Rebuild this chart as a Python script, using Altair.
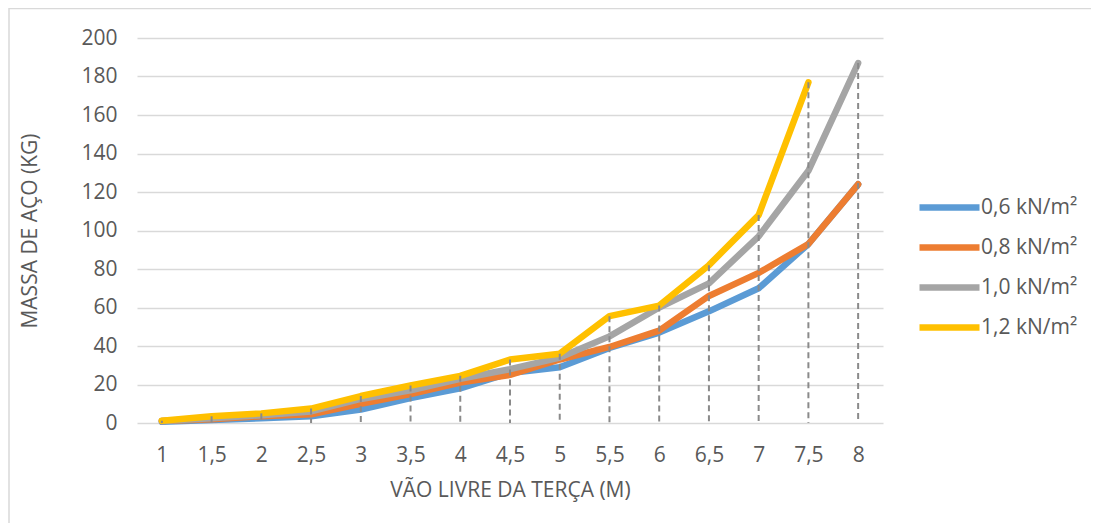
import altair as alt
import pandas as pd

# ---- data ----
vaos = ["1", "1,5", "2", "2,5", "3", "3,5", "4", "4,5", "5", "5,5", "6", "6,5", "7", "7,5", "8"]
series = ["0,6 kN/m²", "0,8 kN/m²", "1,0 kN/m²", "1,2 kN/m²"]
colors = ["#5b9bd5", "#ed7d31", "#a5a5a5", "#ffc000"]
y_ticks = [0, 20, 40, 60, 80, 100, 120, 140, 160, 180, 200]

m06 = [0.6, 1.5, 2.5, 3.5, 7, 13, 18, 26, 29, 39, 47, 58, 70, 93, 124]
m08 = [1, 2, 3.5, 4.5, 10, 15, 21, 25, 33, 39.5, 48, 66, 78, 93, 124]
m10 = [1, 2.5, 4, 6, 12.5, 17, 23, 28, 34, 45, 60, 72.5, 97, 131, 187]
m12 = [1.2, 3.5, 5, 7.5, 14, 19.5, 24.5, 33, 36, 55.5, 61, 82, 108, 177, None]

rows = []
for name, vals in zip(series, [m06, m08, m10, m12]):
    for v, m in zip(vaos, vals):
        if m is not None:
            rows.append({"vao": v, "serie": name, "massa": m})
df = pd.DataFrame(rows)

W, H = 746, 385
FONT = "Open Sans"
GREY = "#595959"
FS = 21

xscale = alt.Scale(type="point", padding=0.5)
xaxis = alt.Axis(
    title="VÃO LIVRE DA TERÇA (M)",
    labelAngle=0,
    labelPadding=21,
    ticks=False,
    domain=False,
    titlePadding=14,
)
yscale = alt.Scale(domain=[0, 200], nice=False)
yaxis = alt.Axis(
    title="MASSA DE AÇO (KG)",
    values=y_ticks,
    tickCount=11,
    labelOverlap=False,
    ticks=False,
    domain=False,
    labelPadding=20,
    titlePadding=40,
    gridColor="#d9d9d9",
    gridWidth=1.5,
)

lines = (
    alt.Chart(df)
    .mark_line(strokeWidth=6.5, strokeCap="round", strokeJoin="round")
    .encode(
        x=alt.X("vao:O", sort=vaos, scale=xscale, axis=xaxis),
        y=alt.Y("massa:Q", scale=yscale, axis=yaxis),
        color=alt.Color(
            "serie:N",
            scale=alt.Scale(domain=series, range=colors),
            legend=alt.Legend(
                title=None,
                orient="none",
                legendX=789,
                legendY=146,
                symbolType="M-1.5,0L1.5,0",
                symbolStrokeWidth=6.5,
                symbolSize=1600,
                labelFontSize=FS,
                labelColor=GREY,
                labelFont=FONT,
                labelOffset=8,
                rowPadding=3,
            ),
        ),
    )
)

drops = (
    alt.Chart(df)
    .transform_aggregate(maxv="max(massa)", groupby=["vao"])
    .mark_rule(strokeDash=[6, 4], color="#8a8a8a", strokeWidth=2)
    .encode(
        x=alt.X("vao:O", sort=vaos, scale=xscale, axis=xaxis),
        y=alt.Y("maxv:Q", scale=yscale, axis=yaxis),
        y2=alt.datum(0),
    )
)

border = (
    alt.Chart(pd.DataFrame({"a": [0]}))
    .mark_rect(filled=False, stroke="#d9d9d9", strokeWidth=1.5)
    .encode(
        x=alt.value(-128),
        x2=alt.value(1000),
        y=alt.value(-29.5),
        y2=alt.value(600),
    )
)

chart = (
    alt.layer(border, lines, drops)
    .properties(
        width=W,
        height=H,
        autosize=alt.AutoSizeParams(type="none"),
        padding={"left": 129, "top": 30, "right": 208, "bottom": 100},
    )
    .configure_view(stroke=None)
    .configure_axis(
        labelFont=FONT,
        titleFont=FONT,
        labelFontSize=FS,
        titleFontSize=FS,
        labelColor=GREY,
        titleColor=GREY,
        titleFontWeight="normal",
    )
)

chart.save("out.html", embed_options={"renderer": "svg", "actions": False})
